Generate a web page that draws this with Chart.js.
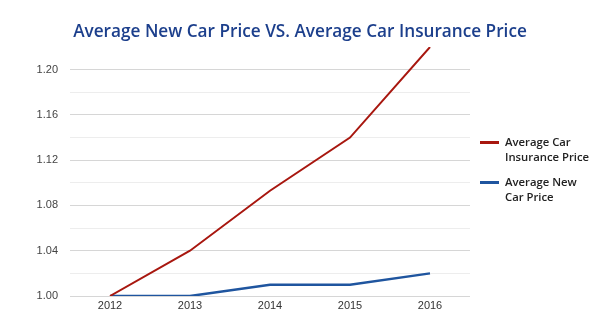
<!DOCTYPE html>
<html>
<head>
<meta charset="utf-8">
<script src="https://cdn.jsdelivr.net/npm/chart.js@4"></script>
<style>
    body { margin: 0; background: #fff; }
    #wrap { position: relative; width: 600px; height: 321px; }
    #title {
        position: absolute; left: 0; top: 19px; width: 600px; text-align: center;
        font-family: 'Open Sans', sans-serif; font-weight: 600; font-size: 17.2px; color: #1c3f8c;
    }
    .leg { position: absolute; left: 480px; font-family: 'Open Sans', sans-serif; font-weight: 600; font-size: 11.3px; color: #222; line-height: 15px; }
    .leg span { position: absolute; left: 0; top: 7px; width: 19px; height: 3px; }
    .leg div { margin-left: 25px; }
</style>
</head>
<body>
<div id="wrap">
    <canvas id="chart" width="600" height="321"></canvas>
    <div id="title">Average New Car Price VS. Average Car Insurance Price</div>
    <div class="leg" style="top: 134px;"><span style="background:#a8170f"></span><div>Average Car<br>Insurance Price</div></div>
    <div class="leg" style="top: 174px;"><span style="background:#1f559f"></span><div>Average New<br>Car Price</div></div>
</div>
<script>
// данные с картинки
const years = ['2012', '2013', '2014', '2015', '2016'];
const insurancePrice = [1.00, 1.04, 1.093, 1.14, 1.22];
const newCarPrice = [1.00, 1.00, 1.01, 1.01, 1.02];

const tickFont = { family: "'Liberation Sans', Arial, sans-serif", size: 11 };

new Chart(document.getElementById('chart').getContext('2d'), {
    type: 'line',
    data: {
        labels: years,
        datasets: [
            { label: 'Average Car Insurance Price', data: insurancePrice, borderColor: '#a8170f', borderWidth: 2, pointRadius: 0, tension: 0 },
            { label: 'Average New Car Price', data: newCarPrice, borderColor: '#1f559f', borderWidth: 2.5, pointRadius: 0, tension: 0 }
        ]
    },
    options: {
        responsive: false,
        animation: false,
        devicePixelRatio: 1,
        layout: { padding: { top: 47, right: 130, bottom: 0, left: 0 } },
        plugins: { legend: { display: false }, tooltip: { enabled: false } },
        scales: {
            x: {
                offset: true,
                grid: { display: false, drawTicks: false },
                border: { display: false },
                ticks: { font: tickFont, color: '#333', padding: 3, maxRotation: 0 },
                afterFit: s => { s.height = 25; }
            },
            y: {
                min: 1.0,
                max: 1.22,
                border: { display: false },
                grid: {
                    drawTicks: false,
                    color: ctx => {
                        const v = Math.round(ctx.tick.value * 100);
                        if (v >= 122) return 'rgba(0,0,0,0)';
                        return v % 4 === 0 ? '#d6d6d6' : '#ededed';
                    }
                },
                ticks: {
                    stepSize: 0.02,
                    font: tickFont,
                    color: '#444',
                    padding: 12,
                    callback: v => {
                        const c = Math.round(v * 100);
                        return c % 4 === 0 && c < 122 ? v.toFixed(2) : '';
                    }
                },
                afterFit: s => { s.width = 70; }
            }
        }
    }
});
</script>
</body>
</html>
